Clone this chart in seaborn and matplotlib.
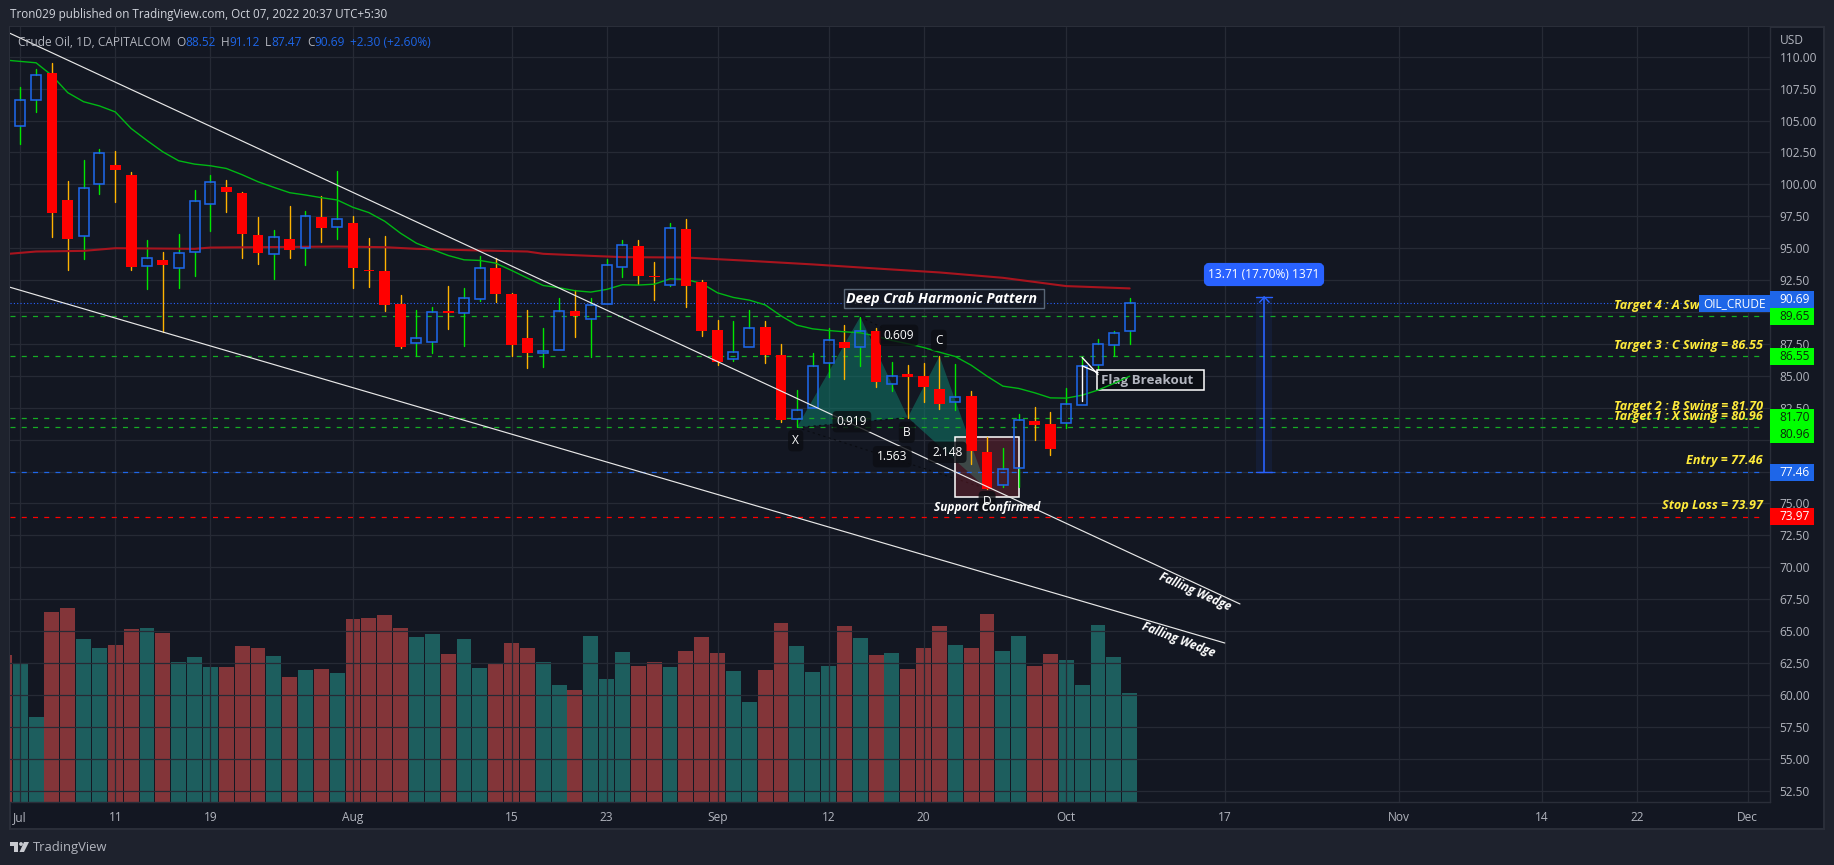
import pandas as pd
import seaborn as sns
import matplotlib.pyplot as plt
from matplotlib.patches import Rectangle, FancyBboxPatch, Polygon, Circle

# daily candles, Jul 1 - Oct 7 (trading days, index 0 = Jul 1)
opens = [104.58, 106.64, 108.70, 98.75, 95.94, 100.00, 101.51, 100.70, 93.57, 94.06, 93.44, 94.69,
         98.44, 99.77, 99.30, 96.02, 94.53, 95.70, 95.00, 97.42, 96.64, 96.95, 93.31, 93.20,
         90.63, 87.58, 87.66, 90.10, 89.92, 91.02, 93.44, 91.41, 87.97, 86.77, 87.03, 90.08,
         89.45, 90.63, 93.54, 95.16, 92.79, 92.13, 96.50, 92.34, 88.58, 86.33, 87.27, 88.81,
         86.62, 81.65, 82.44, 85.97, 87.64, 87.22, 88.50, 84.32, 85.13, 84.97, 83.93, 82.91,
         83.40, 78.99, 76.45, 77.81, 81.42, 81.21, 81.34, 82.75, 85.81, 87.38, 88.52]
highs = [107.66, 109.01, 109.53, 100.26, 101.88, 102.81, 102.60, 100.94, 95.63, 94.69, 96.09, 99.53,
         100.70, 100.31, 99.38, 97.42, 96.41, 98.28, 97.89, 99.06, 101.02, 97.55, 95.78, 95.94,
         91.35, 90.16, 90.39, 92.03, 91.88, 94.38, 94.27, 91.46, 90.16, 88.75, 91.09, 91.72,
         91.09, 94.14, 95.63, 95.63, 93.91, 96.97, 97.28, 92.50, 89.36, 89.28, 90.15, 89.28,
         87.46, 83.88, 86.75, 88.71, 88.97, 89.62, 88.71, 86.12, 85.81, 86.04, 86.54, 85.91,
         83.77, 80.17, 79.33, 81.97, 82.52, 82.15, 84.01, 86.44, 87.85, 88.50, 91.12]
lows = [103.18, 105.68, 95.89, 93.33, 94.17, 99.24, 98.65, 93.33, 91.77, 88.44, 91.85, 92.86,
        96.38, 97.86, 94.27, 93.80, 92.55, 94.27, 93.72, 95.52, 95.76, 91.85, 91.93, 90.05,
        87.19, 86.54, 86.77, 88.65, 87.32, 90.83, 90.78, 86.54, 85.60, 85.68, 87.00, 88.02,
        86.46, 90.60, 92.76, 92.18, 90.93, 92.05, 90.41, 88.11, 85.83, 86.15, 87.27, 86.02,
        81.37, 80.95, 82.44, 84.87, 84.74, 85.76, 84.14, 83.80, 81.73, 82.93, 82.39, 82.31,
        78.07, 76.14, 76.30, 76.30, 79.96, 78.78, 80.92, 82.75, 85.10, 86.54, 87.47]
closes = [106.64, 108.57, 97.79, 95.76, 99.74, 102.47, 101.15, 93.49, 94.27, 93.72, 94.66, 98.72,
          100.21, 99.43, 96.15, 94.66, 95.91, 94.82, 97.50, 96.61, 97.32, 93.41, 93.18, 90.52,
          87.24, 87.94, 89.97, 89.90, 91.07, 93.41, 91.38, 87.40, 86.77, 86.93, 90.05, 89.66,
          90.52, 93.72, 95.22, 92.84, 92.73, 96.55, 92.05, 88.53, 86.10, 86.83, 88.71, 86.65,
          81.55, 82.33, 85.78, 87.77, 87.19, 88.55, 84.53, 84.95, 84.92, 84.14, 82.80, 83.35,
          79.12, 76.14, 77.73, 81.50, 81.16, 79.28, 82.80, 85.78, 87.46, 88.37, 90.69]

# volume starts one bar earlier (index -1), the scale is arbitrary
volumes = [441, 417, 255, 570, 582, 489, 462, 471, 519, 522, 507, 420, 435, 405, 405, 468, 462, 438,
           375, 396, 399, 387, 549, 552, 561, 522, 495, 504, 444, 489, 402, 417, 477, 462, 420, 351,
           336, 498, 369, 450, 408, 420, 405, 453, 495, 447, 393, 300, 396, 537, 468, 390, 408, 528,
           492, 441, 447, 399, 462, 528, 471, 462, 564, 453, 498, 408, 444, 426, 351, 531, 435, 327]
vol_dirs = ["d", "u", "u", "d", "d", "u", "u", "d", "d", "u", "d", "u", "u", "u",
            "d", "d", "d", "u", "d", "u", "d", "u", "d", "d", "d", "d", "u", "u", "d", "u", "u", "d",
            "d", "d", "u", "u", "d", "u", "u", "u", "d", "d", "u", "d", "d", "d", "u", "u", "d", "d",
            "u", "u", "u", "d", "u", "d", "u", "d", "d", "d", "u", "d", "d", "u", "u", "d", "d", "u",
            "u", "u", "u", "u"]

# moving averages
ma20 = [109.75, 109.64, 109.53, 108.54, 107.19, 106.48, 106.15, 105.68, 104.38, 103.44, 102.55, 101.85,
        101.59, 101.46, 101.25, 100.76, 100.21, 99.77, 99.35, 99.17, 98.96, 98.78, 98.20, 97.79,
        97.11, 96.17, 95.39, 94.90, 94.43, 94.09, 94.04, 93.83, 93.26, 92.66, 92.08, 91.90, 91.67,
        91.56, 91.77, 92.14, 92.11, 92.18, 92.60, 92.55, 92.24, 91.50, 91.14, 90.93, 90.56, 89.70,
        88.97, 88.68, 88.55, 88.45, 88.37, 88.11, 87.77, 87.51, 87.22, 86.85, 86.51, 85.83,
        84.97, 84.19, 84.01, 83.67, 83.27, 83.25, 83.48, 83.88, 84.40, 84.97]
ma200_idx = [-1, 1, 4, 6, 11, 12, 15, 20, 23, 25, 29, 32, 33, 36, 38, 42, 46, 50, 54, 58, 62, 66, 70]
ma200 = [94.53, 94.74, 94.79, 95.00, 94.95, 95.05, 95.08, 95.13, 95.08, 94.95, 94.82, 94.74, 94.56,
         94.40, 94.30, 94.27, 94.01, 93.73, 93.41, 93.10, 92.68, 92.03, 91.85]

# horizontal levels
level_green = [89.65, 86.55, 81.70, 80.96]
level_entry = 77.46
level_stop = 73.97
last_close = 90.69

# hand drawn things, (index, price)
wedge_upper = ([-0.644, 76.96], [111.84, 67.12])
wedge_lower = ([-0.644, 76.0], [91.94, 64.06])
pat_X, pat_A, pat_B, pat_C, pat_D = (49, 80.95), (53, 89.62), (56, 81.73), (58, 86.54), (61, 76.14)
flag_lines = [((67, 68), (86.44, 85.10)), ((67, 68), (85.78, 85.25)), ((67, 67), (85.78, 83.0))]
support_box = (59, 63, 75.48, 80.18)
ruler_idx = 78.5
ruler_top = 91.17

tick_idx = [0, 6, 12, 21, 31, 37, 44, 51, 57, 66, 76, 87, 96, 102, 109]
tick_txt = ["Jul", "11", "19", "Aug", "15", "23", "Sep", "12", "20", "Oct", "17", "Nov", "14", "22", "Dec"]
price_ticks = [52.5 + 2.5 * i for i in range(24)]
# these ones sit behind the price tags on the chart
hidden_ticks = [77.5, 80.0, 90.0]

W, H = 1834, 865
OUTER = "#1E222D"
PANEL = "#131722"
GRID = "#262A35"
EDGE = "#2A2E39"
TXT = "#B2B5BE"
BLUE = "#1E66E8"
LIME = "#00E600"
ORANGE = "#FFB300"
RED = "#FF0000"
YELLOW = "#FFEB3B"
FONT = ["Open Sans", "DejaVu Sans"]

sns.set_theme(style="darkgrid", rc={"axes.facecolor": PANEL, "figure.facecolor": OUTER, "grid.color": GRID})
plt.rcParams["font.family"] = FONT


def rect(x0, y0, x1, y1):
    # pixel box to figure fractions
    return [x0 / W, 1 - y1 / H, (x1 - x0) / W, (y1 - y0) / H]


def py(price):
    return 56.8 + (110 - price) * 12.76


fig = plt.figure(figsize=(W / 100, H / 100), dpi=100)

ax_bg = fig.add_axes(rect(10, 27, 1824, 829), zorder=0)
ax_bg.set_xticks([])
ax_bg.set_yticks([])
ax_bg.grid(False)
ax_bg.set_facecolor(PANEL)
for s in ax_bg.spines.values():
    s.set_color(EDGE)
    s.set_linewidth(1.5)
    s.set_visible(True)

# volume below everything
ax_vol = fig.add_axes(rect(10, 27, 1770, 802), zorder=1)
vol_df = pd.DataFrame({"idx": list(range(-1, 71)), "vol": volumes, "dir": vol_dirs})
sns.barplot(data=vol_df, x="idx", y="vol", hue="dir", palette={"u": "#27A59A", "d": "#F35350"},
            dodge=False, native_scale=True, width=0.94, legend=False, alpha=0.5, saturation=1,
            linewidth=0, errorbar=None, ax=ax_vol)
ax_vol.set_xlim(-0.644, 110.4)
ax_vol.set_ylim(0, 2325)
ax_vol.set_xlabel("")
ax_vol.set_ylabel("")
ax_vol.set_xticks([])
ax_vol.set_yticks([])
ax_vol.grid(False)
ax_vol.set_facecolor(PANEL)
for s in ax_vol.spines.values():
    s.set_visible(False)

# price panel
ax = fig.add_axes(rect(10, 27, 1770, 802), zorder=2)
ax.patch.set_visible(False)
ax.set_xlim(-0.644, 110.4)
ax.set_ylim(51.6, 112.335)
ax.set_xticks(tick_idx)
ax.set_xticklabels(tick_txt)
ax.set_yticks(price_ticks)
ax.set_yticklabels(["" if p in hidden_ticks else "%.2f" % p for p in price_ticks])
ax.yaxis.tick_right()
ax.tick_params(axis="x", length=0, pad=6.5, labelsize=8.6, colors=TXT)
ax.tick_params(axis="y", length=0, pad=7, labelsize=8.6, colors=TXT)
ax.grid(True, color=GRID, linewidth=0.9)
ax.set_axisbelow(True)
for name, s in ax.spines.items():
    s.set_visible(name in ("right", "bottom"))
    s.set_color(EDGE)
    s.set_linewidth(1)

# overlay in pixels for labels and price tags
ov = fig.add_axes([0, 0, 1, 1], zorder=5)
ov.patch.set_visible(False)
ov.set_xlim(0, W)
ov.set_ylim(H, 0)
ov.axis("off")

# harmonic pattern
ax.add_patch(Polygon([pat_X, pat_A, pat_B], closed=True, fc="#0F7A69", alpha=0.55, lw=0, zorder=1.1))
ax.add_patch(Polygon([pat_B, pat_C, pat_D], closed=True, fc="#0F7A69", alpha=0.55, lw=0, zorder=1.1))
for p, q in [(pat_X, pat_B), (pat_X, pat_D), (pat_A, pat_C)]:
    ax.plot([p[0], q[0]], [p[1], q[1]], color="#0A0C12", lw=0.8, ls=(0, (2, 3)), zorder=1.2)

# support box
x0, x1, y0, y1 = support_box
ax.add_patch(Rectangle((x0, y0), x1 - x0, y1 - y0, fc="#F23645", ec="none", alpha=0.2, zorder=1.3))
ax.add_patch(Rectangle((x0, y0), x1 - x0, y1 - y0, fc="none", ec="white", lw=1.1, zorder=1.4))

# levels
for lv in level_green:
    ax.plot([-0.644, 110.0], [lv, lv], color="#16AD24", lw=0.9, ls=(0, (4, 5)), zorder=1.5)
ax.plot([-0.644, 110.0], [level_entry, level_entry], color="#1E66E8", lw=0.9, ls=(0, (4, 5)), zorder=1.5)
ax.plot([-0.644, 110.0], [level_stop, level_stop], color=RED, lw=0.9, ls=(0, (4, 5)), zorder=1.5)
ax.plot([-0.644, 110.4], [last_close, last_close], color="#2962FF", lw=0.8, ls=(0, (1, 2)), zorder=1.5)

# flag box sits under the average, the line runs over it
ax.add_patch(Rectangle((1097.4, 370.3), 106.8, 20, fc="#0B0E14", ec="white", lw=1.1,
                       transform=ov.transData, zorder=3.45))
ax.text(1100.6, 380.5, "Flag Breakout", color=TXT, fontsize=9.6, fontweight="bold", va="center",
        transform=ov.transData, zorder=3.46)

# wedge
ax.plot(*wedge_upper, color="#E8E8E8", lw=0.85, zorder=4)
ax.plot(*wedge_lower, color="#E8E8E8", lw=0.85, zorder=4)

# averages
sns.lineplot(x=list(range(-1, 71)), y=ma20, color="#00B814", linewidth=1.0, estimator=None, ax=ax, zorder=3.5)
sns.lineplot(x=ma200_idx, y=ma200, color="#A8141E", linewidth=1.5, estimator=None, ax=ax, zorder=3.4)
ax.set_xlabel("")
ax.set_ylabel("")

# candles
for i, (o, h, l, c) in enumerate(zip(opens, highs, lows, closes)):
    top, bot = max(o, c), min(o, c)
    if c >= o:
        ax.plot([i, i], [top, h], color=LIME, lw=1.0, zorder=3)
        ax.plot([i, i], [l, bot], color=LIME, lw=1.0, zorder=3)
        ax.bar(i, top - bot, bottom=bot, width=0.63, fc="none", ec=BLUE, lw=1.15, zorder=3.6)
    else:
        ax.plot([i, i], [l, h], color=ORANGE, lw=1.0, zorder=3)
        ax.bar(i, top - bot, bottom=bot, width=0.68, color=RED, lw=0, zorder=3.6)

# flag
for xs, ys in flag_lines:
    ax.plot(xs, ys, color="white", lw=1.0, zorder=4)

# ruler
ax.bar(ruler_idx, ruler_top - level_entry, bottom=level_entry, width=1, color="#2962FF", alpha=0.09, lw=0, zorder=1.6)
ax.plot([ruler_idx, ruler_idx], [level_entry, ruler_top], color="#2962FF", lw=1.2, zorder=2)
ax.plot([78, 79], [level_entry, level_entry], color="#2962FF", lw=1, zorder=2)
ax.plot([78, 79], [ruler_top, ruler_top], color="#2962FF", lw=1, zorder=2)
ax.plot([78.2, 78.5, 78.8], [ruler_top - 0.4, ruler_top, ruler_top - 0.4], color="#2962FF", lw=1, zorder=2)

ov.text(9.5, 14.7, "Tron029 published on TradingView.com, Oct 07, 2022 20:37 UTC+5:30", color="#D1D4DC",
        fontsize=8.4, va="center")
ov.text(1780, 40, "USD", color=TXT, fontsize=8.6, va="center")

ov.text(18, 42, "Crude Oil, 1D, CAPITALCOM", color=TXT, fontsize=8.6, va="center")
for x, t, col in [(176, "O", TXT), (185, "88.52", BLUE), (221, "H", TXT), (229.7, "91.12", BLUE),
                  (265.3, "L", TXT), (271.3, "87.47", BLUE), (307.2, "C", TXT), (314.3, "90.69", BLUE),
                  (350.3, "+2.30 (+2.60%)", BLUE)]:
    ov.text(x, 42, t, color=col, fontsize=8.6, va="center")

# yellow level labels
for y, t in [(305.7, "Target 4 : A Swing = 89.65"), (345.7, "Target 3 : C Swing = 86.55"),
             (406.7, "Target 2 : B Swing = 81.70"), (416.7, "Target 1 : X Swing = 80.96"),
             (460.7, "Entry = 77.46"), (505.7, "Stop Loss = 73.97")]:
    ov.text(1763, y, t, color=YELLOW, fontsize=9.1, style="italic", fontweight="bold", ha="right", va="center", zorder=3)

# price tags
ov.add_patch(Rectangle((1699, 295), 71, 17, fc=BLUE, lw=0, zorder=4))
ov.text(1734.5, 303.5, "OIL_CRUDE", color="white", fontsize=8.6, ha="center", va="center", zorder=5)
tags = [(py(last_close), "90.69", BLUE, "white"), (py(89.65), "89.65", "#00FF00", "#0B2B0B"),
        (py(86.55), "86.55", "#00FF00", "#0B2B0B"), (py(81.70), "81.70", "#00FF00", "#0B2B0B"),
        (py(81.70) + 17, "80.96", "#00FF00", "#0B2B0B"), (py(level_entry), "77.46", BLUE, "white"),
        (py(level_stop), "73.97", RED, "white")]
tags[0] = (tags[1][0] - 17, tags[0][1], tags[0][2], tags[0][3])
for y, t, fc, tc in tags:
    ov.add_patch(Rectangle((1770, y - 8.5), 44, 17, fc=fc, lw=0))
    ov.text(1794.5, y, t, color=tc, fontsize=8.6, ha="center", va="center")

# ruler tooltip
ov.add_patch(FancyBboxPatch((1206, 265), 116, 19, boxstyle="round,pad=0,rounding_size=3", fc="#2962FF", lw=3, ec="#2962FF"))
ov.text(1264, 274.3, "13.71 (17.70%) 1371", color="white", fontsize=8.6, ha="center", va="center")

# pattern letters and ratios, see-through boxes so the lines stay visible
for x, y, t in [(795.7, 440.7, "X"), (906.8, 432.3, "B"), (938.9, 340.3, "C"), (987.1, 501.7, "D"), (859, 300, "A"),
                (898.9, 335.3, "0.609"), (851.9, 421.7, "0.919"), (892.2, 456.7, "1.563"), (947.2, 452.3, "2.148")]:
    ov.text(x, y, t, color="white", fontsize=8.6, ha="center", va="center", zorder=2,
            bbox=dict(boxstyle="round,pad=0.35", fc="#0C0E13", ec="none", alpha=0.8))

ov.add_patch(Rectangle((843.6, 288.7), 200.8, 19.6, fc="#131722", ec="#6B7B8C", lw=1, alpha=0.8, zorder=2.5))
ov.text(846, 298.5, "Deep Crab Harmonic Pattern", color="white", fontsize=10.2, style="italic",
        fontweight="bold", ha="left", va="center", zorder=3)
ov.text(987, 508, "Support Confirmed", color="white", fontsize=8.6, style="italic", fontweight="bold",
        ha="center", va="center", zorder=3)
ov.text(1195, 592, "Falling Wedge", color="white", fontsize=8.6, style="italic", fontweight="bold", rotation=-24,
        ha="center", va="center", rotation_mode="anchor")
ov.text(1178.5, 640, "Falling Wedge", color="white", fontsize=8.6, style="italic", fontweight="bold", rotation=-21,
        ha="center", va="center", rotation_mode="anchor")

# TradingView mark
logo = "#C8CAD0"
ov.add_patch(Polygon([(10, 842), (17.5, 842), (17.5, 852), (14, 852), (14, 845.5), (10, 845.5)], closed=True, fc=logo, lw=0))
ov.add_patch(Circle((21, 844), 1.9, fc=logo, lw=0))
ov.add_patch(Polygon([(24, 842), (29, 842), (24, 852), (19.5, 852)], closed=True, fc=logo, lw=0))
ov.text(33, 847, "TradingView", color=TXT, fontsize=9.4, va="center")

fig.savefig("out.png", dpi=100, facecolor=OUTER)
